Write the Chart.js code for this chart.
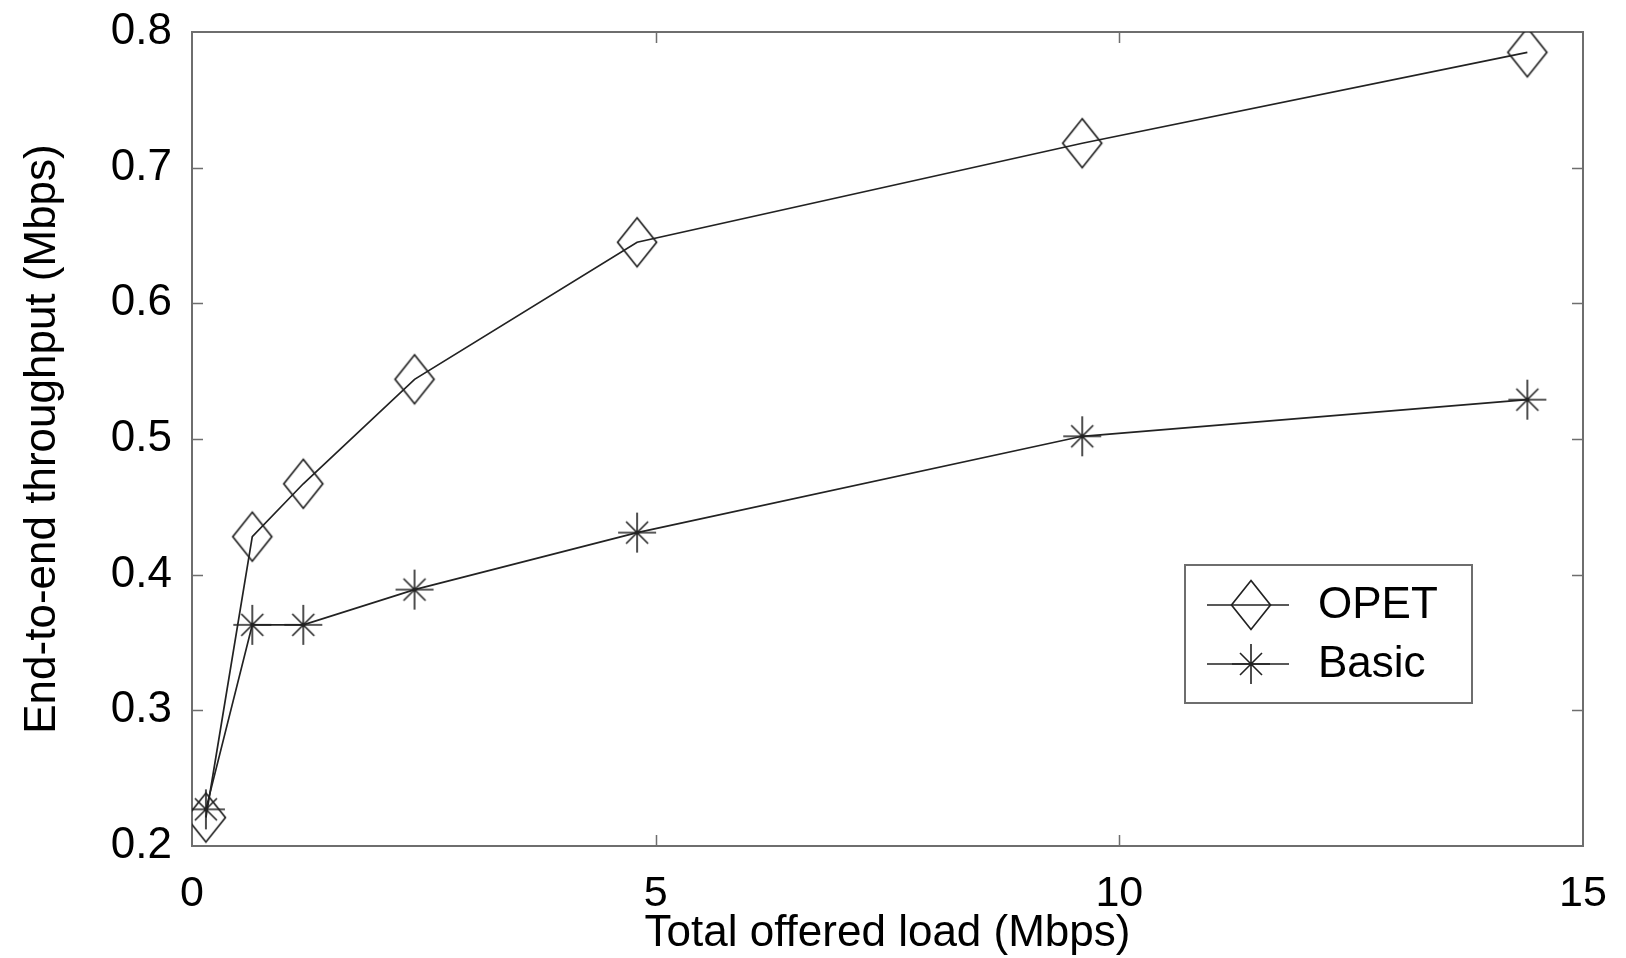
<!DOCTYPE html>
<html>
<head>
<meta charset="utf-8">
<script src="https://cdn.jsdelivr.net/npm/chart.js@4.4.0/dist/chart.umd.min.js"></script>
<style>
  html, body { margin: 0; padding: 0; background: #fff; }
  #wrap { width: 1626px; height: 958px; }
</style>
</head>
<body>
<div id="wrap"><canvas id="throughputChart" width="1626" height="958"></canvas></div>
<script>
// values
const offeredLoad = [0.15, 0.65, 1.2, 2.4, 4.8, 9.6, 14.4];
const opetThroughput = [0.221, 0.428, 0.467, 0.544, 0.645, 0.718, 0.785];
const basicThroughput = [0.227, 0.363, 0.363, 0.389, 0.431, 0.502, 0.529];
const xTicks = [0, 5, 10, 15];
const yTicks = [0.2, 0.3, 0.4, 0.5, 0.6, 0.7, 0.8];
const seriesNames = ['OPET', 'Basic'];

const INK = '#222';
const FONT = '"Liberation Sans", Arial, Helvetica, sans-serif';

// open diamond, a little taller than wide
function makeDiamond() {
    const c = document.createElement('canvas');
    c.width = 44; c.height = 54;
    const ctx = c.getContext('2d');
    ctx.strokeStyle = INK;
    ctx.lineWidth = 1.7;
    ctx.beginPath();
    ctx.moveTo(22, 2.5);
    ctx.lineTo(41.5, 27);
    ctx.lineTo(22, 51.5);
    ctx.lineTo(2.5, 27);
    ctx.closePath();
    ctx.stroke();
    return c;
}

// asterisk: long vertical/horizontal arms, shorter diagonals
function makeStar() {
    const c = document.createElement('canvas');
    c.width = 44; c.height = 44;
    const ctx = c.getContext('2d');
    ctx.strokeStyle = INK;
    ctx.lineWidth = 1.6;
    ctx.beginPath();
    ctx.moveTo(22, 2); ctx.lineTo(22, 42);
    ctx.moveTo(3, 22); ctx.lineTo(41, 22);
    ctx.moveTo(11, 11); ctx.lineTo(33, 33);
    ctx.moveTo(33, 11); ctx.lineTo(11, 33);
    ctx.stroke();
    return c;
}

const diamondMark = makeDiamond();
const starMark = makeStar();
const marks = [diamondMark, starMark];

const frameTicks = {
    id: 'frameTicks',
    beforeDatasetsDraw(chart) {
        const { ctx, chartArea: a, scales: { x, y } } = chart;
        ctx.save();
        ctx.strokeStyle = '#6e6e6e';
        ctx.lineWidth = 2;
        ctx.strokeRect(a.left, a.top, a.right - a.left, a.bottom - a.top);
        ctx.lineWidth = 1.5;
        ctx.beginPath();
        yTicks.slice(1, -1).forEach(v => {
            const py = Math.round(y.getPixelForValue(v)) + 0.5;
            ctx.moveTo(a.left, py); ctx.lineTo(a.left + 11, py);
            ctx.moveTo(a.right, py); ctx.lineTo(a.right - 11, py);
        });
        xTicks.slice(1, -1).forEach(v => {
            const px = Math.round(x.getPixelForValue(v)) + 0.5;
            ctx.moveTo(px, a.bottom); ctx.lineTo(px, a.bottom - 11);
            ctx.moveTo(px, a.top); ctx.lineTo(px, a.top + 11);
        });
        ctx.stroke();
        ctx.restore();
    },
    afterDraw(chart) {
        // boxed legend inside the plot, lower right
        const { ctx, chartArea: a } = chart;
        const bx = a.right - 398, by = a.top + 533, bw = 287, bh = 138;
        ctx.save();
        ctx.fillStyle = '#fff';
        ctx.fillRect(bx, by, bw, bh);
        ctx.strokeStyle = '#6e6e6e';
        ctx.lineWidth = 2;
        ctx.strokeRect(bx, by, bw, bh);
        ctx.font = '44px ' + FONT;
        ctx.textBaseline = 'alphabetic';
        ctx.fillStyle = '#000';
        seriesNames.forEach((name, i) => {
            const cy = by + 40 + i * 59;
            ctx.strokeStyle = INK;
            ctx.lineWidth = 1.7;
            ctx.beginPath();
            ctx.moveTo(bx + 22, cy); ctx.lineTo(bx + 104, cy);
            ctx.stroke();
            const m = marks[i];
            ctx.drawImage(m, bx + 66 - m.width / 2, cy - m.height / 2);
            ctx.fillText(name, bx + 133, cy + 13);
        });
        ctx.restore();
    }
};

const ctx = document.getElementById('throughputChart').getContext('2d');
new Chart(ctx, {
    type: 'line',
    data: {
        datasets: [
            {
                label: seriesNames[0],
                data: offeredLoad.map((v, i) => ({ x: v, y: opetThroughput[i] })),
                borderColor: INK,
                borderWidth: 1.7,
                pointStyle: diamondMark,
                pointRadius: 22,
                fill: false,
                tension: 0
            },
            {
                label: seriesNames[1],
                data: offeredLoad.map((v, i) => ({ x: v, y: basicThroughput[i] })),
                borderColor: INK,
                borderWidth: 1.7,
                pointStyle: starMark,
                pointRadius: 20,
                fill: false,
                tension: 0
            }
        ]
    },
    options: {
        responsive: false,
        animation: false,
        devicePixelRatio: 1,
        layout: { padding: { top: 32, right: 43, left: 0, bottom: 0 } },
        plugins: { legend: { display: false }, tooltip: { enabled: false } },
        scales: {
            x: {
                type: 'linear',
                min: 0,
                max: 15,
                grid: { display: false },
                border: { display: false },
                ticks: {
                    stepSize: 5,
                    maxRotation: 0,
                    color: '#000',
                    padding: 14,
                    font: { family: FONT, size: 43 }
                },
                title: {
                    display: true,
                    text: 'Total offered load (Mbps)',
                    color: '#000',
                    padding: 0,
                    font: { family: FONT, size: 44, lineHeight: 1.1 }
                },
                afterFit(scale) {
                    scale.height = 112;
                    scale.paddingLeft = 0;
                    scale.paddingRight = 0;
                }
            },
            y: {
                min: 0.2,
                max: 0.8,
                grid: { display: false },
                border: { display: false },
                ticks: {
                    stepSize: 0.1,
                    color: '#000',
                    padding: 12,
                    font: { family: FONT, size: 44 },
                    callback: v => v.toFixed(1)
                },
                title: {
                    display: true,
                    text: 'End-to-end throughput (Mbps)',
                    color: '#000',
                    padding: { top: 19, bottom: 0 },
                    font: { family: FONT, size: 44, lineHeight: 1.1 }
                },
                afterFit(scale) {
                    scale.width = 192;
                    scale.paddingTop = 0;
                    scale.paddingBottom = 0;
                }
            }
        }
    },
    plugins: [frameTicks]
});
</script>
</body>
</html>
